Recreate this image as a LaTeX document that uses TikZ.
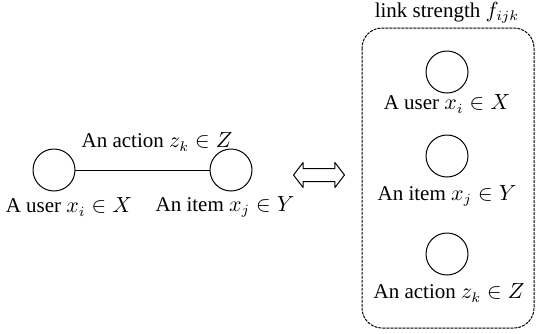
\documentclass[tikz,border=0pt]{standalone}
\usepackage{fontspec}
\setmainfont{Liberation Serif}
\usepackage{tikz}
\usetikzlibrary{arrows.meta,calc,positioning,shapes.arrows}
\tikzset{
  vtx/.style={circle, draw, minimum size=21pt, inner sep=0pt},
  lbl/.style={inner sep=1pt, font=\fontsize{10.5}{12.5}\selectfont},
  every picture/.style={line cap=round, line join=round}
}

\begin{document}
\begin{tikzpicture}[x=0.5pt, y=-0.5pt, line width=0.5pt]
  \useasboundingbox (0,0) rectangle (540,333);
  % left: one link
  \node[vtx] (user) at (54,170) {};
  \node[vtx] (item) at (231,170) {};
  \draw (user)--(item);
  \node[lbl] (act) at (157,142) {An action $z_k \in Z$};
  \node[lbl] (userl) at (69,207) {A user $x_i \in X$};
  \node[lbl] (iteml) at (225,207) {An item $x_j \in Y$};
  % equivalence
  \node[draw, shape=double arrow, minimum height=25.5pt, inner xsep=0pt, inner ysep=3pt,
        double arrow head extend=3pt, double arrow tip angle=105] (eqv) at (319,175) {};
  % right: three vertices in one box
  \draw[dash pattern=on 1.2pt off 0.8pt, rounded corners=10pt] (362,28) rectangle (534,328);
  \node[lbl] (fijk) at (447,13) {link strength $f_{ijk}$};
  \node[vtx] (buser) at (447,72) {};
  \node[lbl] (buserl) at (447,104) {A user $x_i \in X$};
  \node[vtx] (bitem) at (447,156) {};
  \node[lbl] (biteml) at (447,196) {An item $x_j \in Y$};
  \node[vtx] (bact) at (447,254) {};
  \node[lbl] (bactl) at (449,293) {An action $z_k \in Z$};
\end{tikzpicture}
\end{document}
